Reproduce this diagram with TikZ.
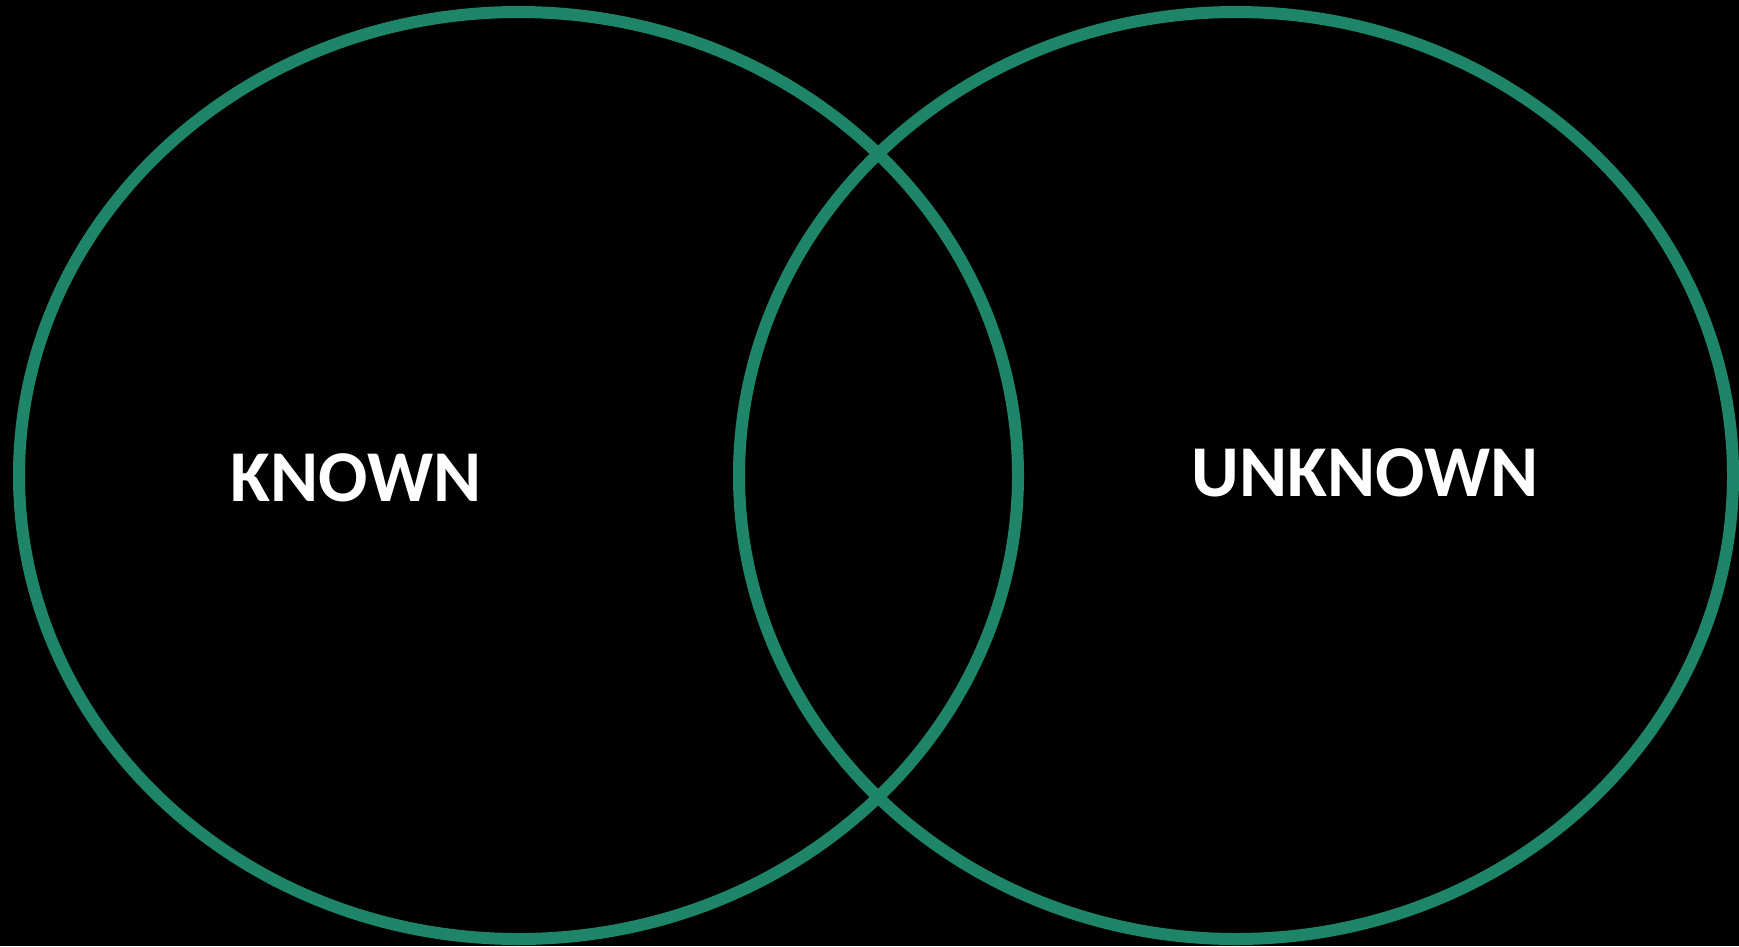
\documentclass[tikz,border=0pt]{standalone}
\usepackage{fontspec}
\setmainfont{Carlito}
\definecolor{ringgreen}{RGB}{31,133,105}
\tikzset{
  ring/.style={draw=ringgreen, line width=12pt},
  label/.style={text=white, font=\bfseries\fontsize{73}{80}\selectfont, inner sep=0pt, anchor=base}
}
\begin{document}
\begin{tikzpicture}[x=1pt,y=-1pt]
\fill[black] (0,0) rectangle (1739,946);
\useasboundingbox (0,0) rectangle (1739,946);
\draw[ring] (518.5,475.5) ellipse [x radius=499.5, y radius=463.5];
\draw[ring] (1236,475.5) ellipse [x radius=497, y radius=463.5];
\node[label] (known) at (356,501) {KNOWN};
\node[label] (unknown) at (1365,496) {UNKNOWN};
\end{tikzpicture}
\end{document}
